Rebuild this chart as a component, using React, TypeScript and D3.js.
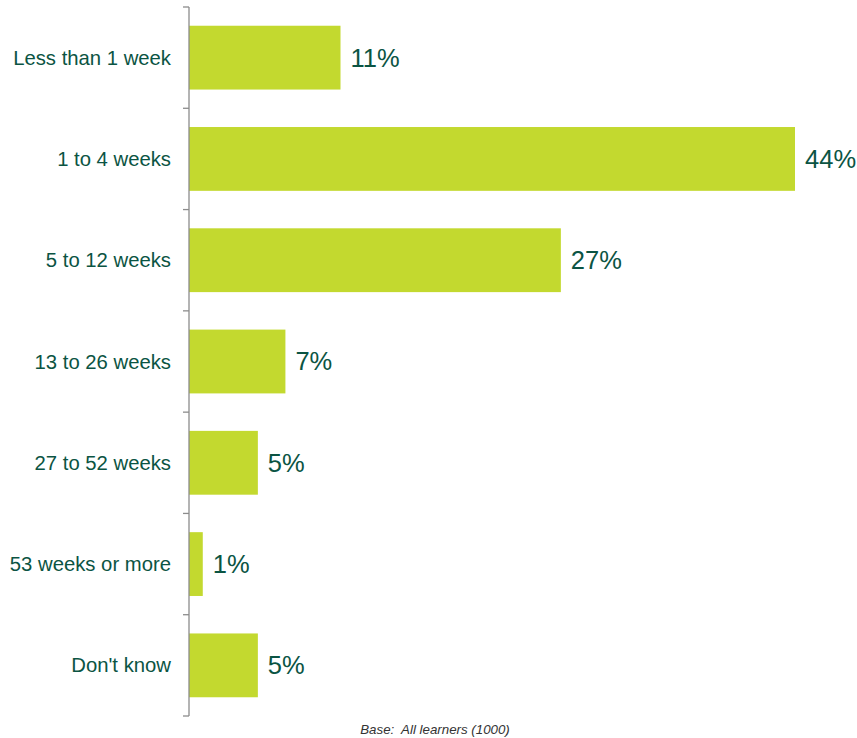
import React from "react";
import * as d3 from "d3";

const categories = [
  "Less than 1 week",
  "1 to 4 weeks",
  "5 to 12 weeks",
  "13 to 26 weeks",
  "27 to 52 weeks",
  "53 weeks or more",
  "Don't know",
];
const values = [11, 44, 27, 7, 5, 1, 5];
const baseNote = "Base:  All learners (1000)";

const W = 857;
const H = 738;
const axisX = 189;
const top = 7;
const bottom = 716;

export default function App() {
  const y = d3.scaleBand<string>().domain(categories).range([top, bottom]).paddingInner(0.37).paddingOuter(0.185);
  const x = d3.scaleLinear().domain([0, 44]).range([axisX, 795]);
  const ticks = d3.range(categories.length + 1).map((i) => top + (i * (bottom - top)) / categories.length);
  const green = "#0b5443";
  return (
    <svg width={W} height={H} style={{ position: "absolute", left: 0, top: 0 }} fontFamily="'Liberation Sans', Arial, sans-serif">
      {categories.map((c, i) => {
        const yy = y(c)!;
        return (
          <g key={c}>
            <rect x={x(0)} y={yy} width={x(values[i]) - x(0)} height={y.bandwidth()} fill="#c3d92f" />
            <text x={171} y={yy + y.bandwidth() / 2} dy="0.35em" textAnchor="end" fontSize={20.3} fill={green}>
              {c}
            </text>
            <text x={x(values[i]) + 10} y={yy + y.bandwidth() / 2} dy="0.35em" textAnchor="start" fontSize={25.5} fill={green}>
              {values[i]}%
            </text>
          </g>
        );
      })}
      <line x1={axisX} x2={axisX} y1={top} y2={bottom} stroke="#8c8c8c" strokeWidth={1.3} />
      {ticks.map((t, i) => (
        <line key={i} x1={axisX - 6} x2={axisX} y1={t} y2={t} stroke="#8c8c8c" strokeWidth={1.3} />
      ))}
      <text x={435} y={734} textAnchor="middle" fontSize={13.3} fontStyle="italic" fill="#333" style={{ whiteSpace: "pre" }}>
        {baseNote}
      </text>
    </svg>
  );
}
